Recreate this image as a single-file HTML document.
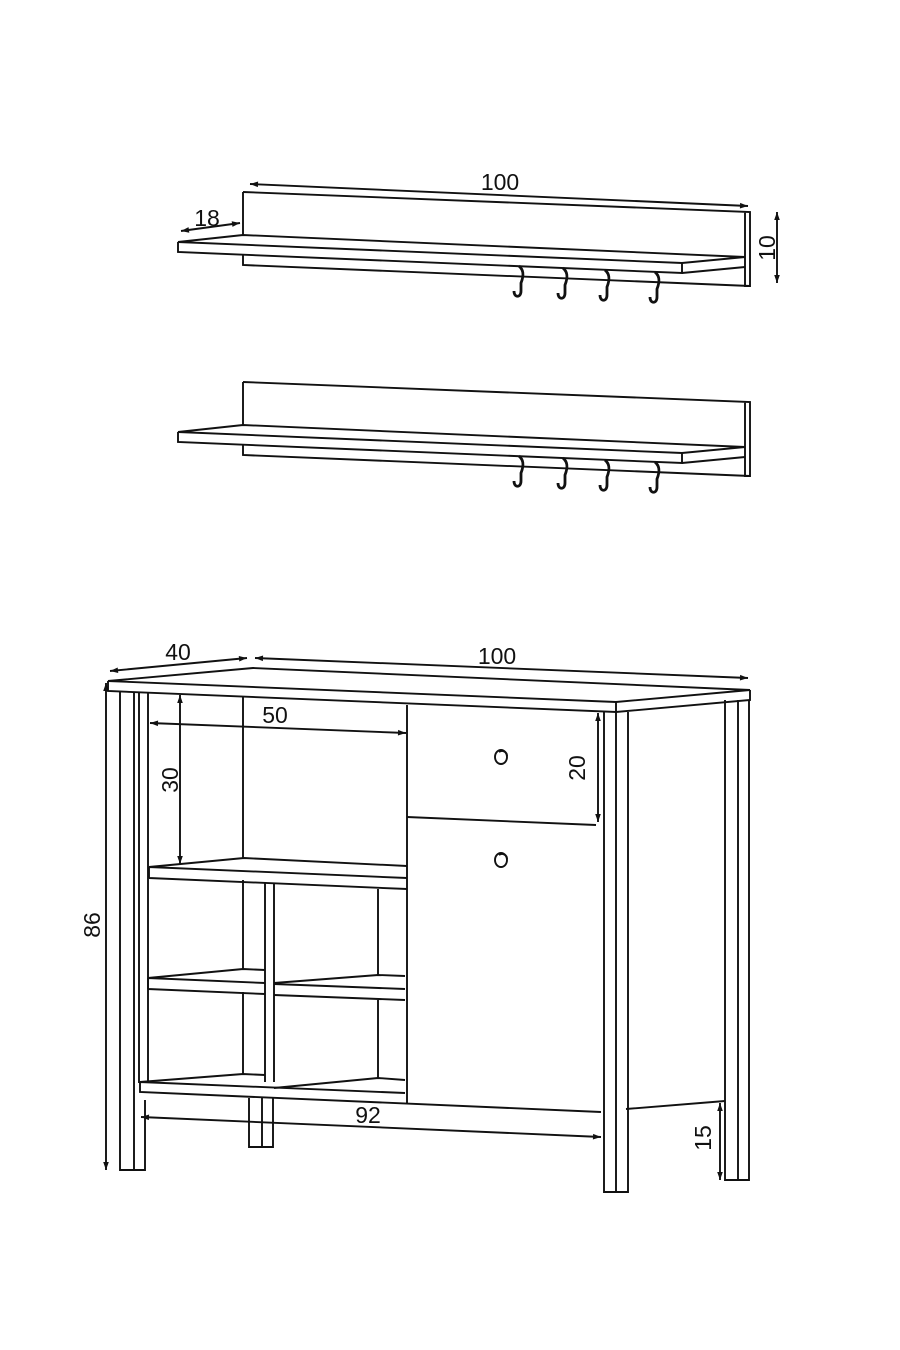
<!DOCTYPE html>
<html><head><meta charset="utf-8"><style>
html,body{margin:0;padding:0;background:#fff;}
svg{display:block}
text{font-family:"Liberation Sans",Arial,sans-serif;font-size:23px;fill:#111;}
</style></head><body>
<svg width="900" height="1350" viewBox="0 0 900 1350" xmlns="http://www.w3.org/2000/svg">
<defs>
<marker id="a" viewBox="0 0 10 10" refX="10" refY="5" markerWidth="17" markerHeight="8" orient="auto-start-reverse" markerUnits="userSpaceOnUse"><path d="M0,1.5 L10,5 L0,8.5 z" fill="#111"/></marker>
<g id="shelf">
<path d="M243,192 L750,212 L750,286 L745,286 L745,212" fill="none"/>
<path d="M243,192 L243,235 M243,255 L243,265 L750,286"/>
<path d="M178,242 L243,235 L745,257 L682,263 L178,242 Z" fill="#fff"/>
<path d="M178,242 L178,252 L682,273 L682,263 M682,273 L745,267"/>
<g stroke-width="2.8">
<path d="M519,266 C525,271 523,278 521,283 L521,291 C521,298 514,298 514,291"/>
<path d="M563,268 C569,273 567,280 565,285 L565,293 C565,300 558,300 558,293"/>
<path d="M605,270 C611,275 609,282 607,287 L607,295 C607,302 600,302 600,295"/>
<path d="M655,272 C661,277 659,284 657,289 L657,297 C657,304 650,304 650,297"/>
</g>
</g>
</defs>

<g stroke="#111" stroke-width="1.9" fill="none">
<use href="#shelf"/>
<use href="#shelf" transform="translate(0,190)"/>

<line x1="250" y1="184" x2="748" y2="206" marker-start="url(#a)" marker-end="url(#a)"/>
<line x1="181" y1="231" x2="240" y2="223" marker-start="url(#a)" marker-end="url(#a)"/>
<line x1="777" y1="212" x2="777" y2="283" marker-start="url(#a)" marker-end="url(#a)"/>

<path d="M108,681 L253,668 L750,690 L616,702 Z" fill="#fff"/>
<path d="M108,681 L108,691 L616,712 L616,702 M616,712 L750,700 L750,690"/>

<path d="M120,692 L120,1170 L145,1170 L145,1100 M134,692 L134,1170 M139,693 L139,1083 M148,693 L148,1083"/>
<path d="M243,697 L243,858 M407,705 L407,1103"/>
<path d="M604,712 L604,1192 L628,1192 L628,712 M616,712 L616,1192"/>
<path d="M725,700 L725,1180 L749,1180 L749,700 M738,700 L738,1180"/>
<path d="M249,1098 L249,1147 L273,1147 L273,1098 M262,1098 L262,1147"/>

<path d="M407,817 L596,825"/>
<ellipse cx="501" cy="757" rx="6" ry="7"/><path d="M499,752 a5,5 0 0 1 8,4"/>
<ellipse cx="501" cy="860" rx="6" ry="7"/><path d="M499,855 a5,5 0 0 1 8,4"/>

<path d="M149,867 L244,858 L407,866"/>
<path d="M149,867 L407,878 M149,878 L407,889 M149,867 L149,878"/>
<path d="M265,883 L265,1082 M274,884 L274,1082 M378,889 L378,975 M378,1000 L378,1078 M243,880 L243,969 M243,992 L243,1075"/>
<path d="M148,978 L243,969 L265,970 M274,983 L378,975 L405,976"/>
<path d="M148,978 L265,983 M274,984 L405,989 M148,989 L265,994 M274,995 L405,1000 M148,978 L148,989"/>
<path d="M140,1082 L243,1074 L265,1075 M274,1088 L378,1078 L405,1080"/>
<path d="M140,1082 L405,1093 M140,1082 L140,1092 L601,1112 M626,1109 L725,1101"/>

<line x1="110" y1="671" x2="247" y2="658" marker-start="url(#a)" marker-end="url(#a)"/>
<line x1="255" y1="658" x2="748" y2="678" marker-start="url(#a)" marker-end="url(#a)"/>
<line x1="106" y1="683" x2="106" y2="1170" marker-start="url(#a)" marker-end="url(#a)"/>
<line x1="150" y1="723" x2="406" y2="733" marker-start="url(#a)" marker-end="url(#a)"/>
<line x1="180" y1="695" x2="180" y2="864" marker-start="url(#a)" marker-end="url(#a)"/>
<line x1="598" y1="713" x2="598" y2="822" marker-start="url(#a)" marker-end="url(#a)"/>
<line x1="141" y1="1117" x2="601" y2="1137" marker-start="url(#a)" marker-end="url(#a)"/>
<line x1="720" y1="1103" x2="720" y2="1180" marker-start="url(#a)" marker-end="url(#a)"/>
</g>

<text x="500" y="190" text-anchor="middle">100</text>
<text x="207" y="226" text-anchor="middle">18</text>
<text transform="translate(775,248) rotate(-90)" text-anchor="middle">10</text>
<text x="178" y="660" text-anchor="middle">40</text>
<text x="497" y="664" text-anchor="middle">100</text>
<text x="275" y="723" text-anchor="middle">50</text>
<text transform="translate(178,780) rotate(-90)" text-anchor="middle">30</text>
<text transform="translate(585,768) rotate(-90)" text-anchor="middle">20</text>
<text transform="translate(100,925) rotate(-90)" text-anchor="middle">86</text>
<text x="368" y="1123" text-anchor="middle">92</text>
<text transform="translate(711,1138) rotate(-90)" text-anchor="middle">15</text>
</svg>
</body></html>
